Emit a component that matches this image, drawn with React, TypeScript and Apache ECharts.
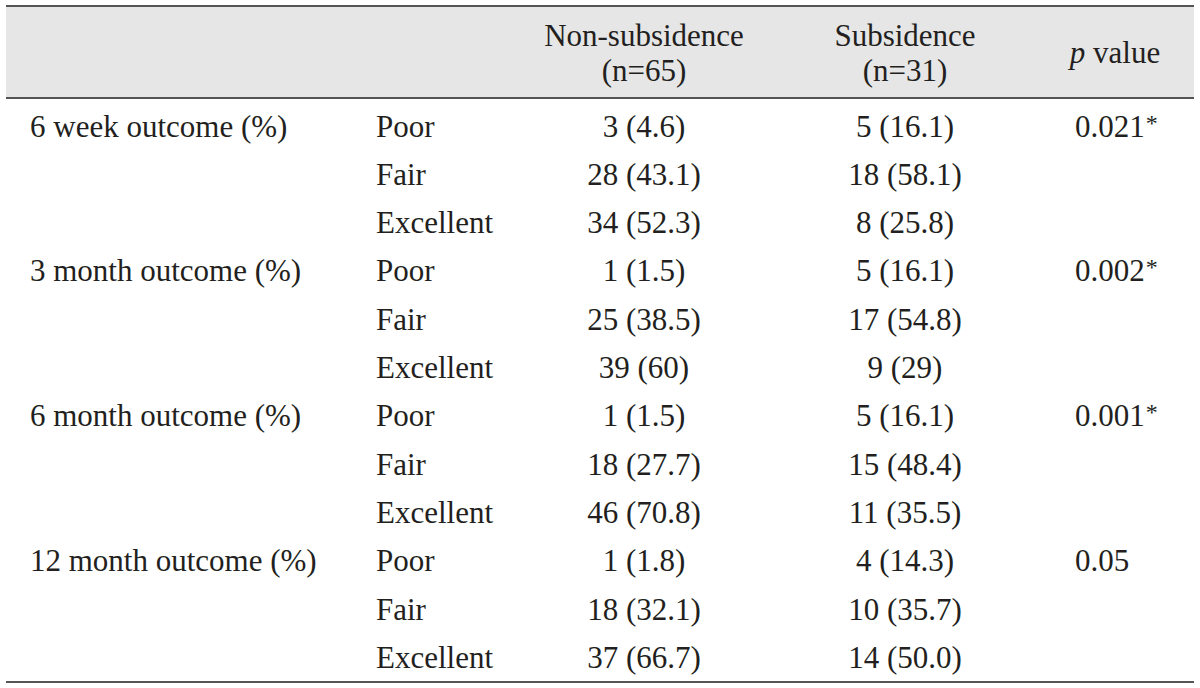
import React, { useEffect, useRef } from "react";
import * as echarts from "echarts";

const timepoints = ["6 week outcome (%)", "3 month outcome (%)", "6 month outcome (%)", "12 month outcome (%)"];
const grades = ["Poor", "Fair", "Excellent"];
const nonSubCounts = [3, 28, 34, 1, 25, 39, 1, 18, 46, 1, 18, 37];
const nonSubPcts = ["4.6", "43.1", "52.3", "1.5", "38.5", "60", "1.5", "27.7", "70.8", "1.8", "32.1", "66.7"];
const subCounts = [5, 18, 8, 5, 17, 9, 5, 15, 11, 4, 10, 14];
const subPcts = ["16.1", "58.1", "25.8", "16.1", "54.8", "29", "16.1", "48.4", "35.5", "14.3", "35.7", "50.0"];
const pValues = ["0.021", "0.002", "0.001", "0.05"];
const pSignificant = [true, true, true, false];
const headerGroups = ["Non-subsidence", "Subsidence"];
const headerNs = ["(n=65)", "(n=31)"];

export default function App() {
  const ref = useRef<HTMLDivElement>(null);
  useEffect(() => {
    document.body.style.margin = "0";
    const chart = echarts.init(ref.current!, null, { renderer: "svg" });
    const font = "'Liberation Serif', 'DejaVu Serif', serif";
    const fs = 31;
    const color = "#231f20";
    const left = 6, right = 1194;
    const topLine = 6, headLine = 98, bottomLine = 682;
    const row0 = 126, rowH = 48.3;
    const col0 = 30, col1 = 376, col2 = 644, col3 = 905, col4 = 1075, col4h = 1115;

    const txt = (text: string, x: number, y: number, align: string, extra: any = {}) => ({
      type: "text",
      x, y,
      style: {
        text, fill: color, fontSize: fs, fontFamily: font,
        textAlign: align, textVerticalAlign: "middle",
        align, verticalAlign: "middle", ...extra,
      },
    });

    const els: any[] = [];
    els.push({ type: "rect", shape: { x: left, y: topLine, width: right - left, height: headLine - topLine }, style: { fill: "#e6e6e6" } });
    const hline = (y: number) => ({ type: "line", shape: { x1: left, y1: y, x2: right, y2: y }, style: { stroke: "#555", lineWidth: 2 } });
    els.push(hline(topLine), hline(headLine), hline(bottomLine));

    const hx = [col2, col3];
    headerGroups.forEach((h, i) => {
      els.push(txt(h, hx[i], 35, "center"));
      els.push(txt(headerNs[i], hx[i], 70, "center"));
    });
    els.push(txt("{i|p} value", col4h, 52, "center", {
      rich: { i: { fontStyle: "italic", fontSize: fs, fontFamily: font, fill: color } },
    }));

    timepoints.forEach((tp, t) => {
      const base = t * grades.length;
      const y0 = row0 + base * rowH;
      els.push(txt(tp, col0, y0, "left"));
      els.push(txt(pSignificant[t] ? `${pValues[t]}{s|*}` : pValues[t], col4, y0, "left", {
        rich: { s: { fontSize: 24, fontFamily: font, fill: color, verticalAlign: "top", padding: [0, 0, 6, 1] } },
      }));
      grades.forEach((g, k) => {
        const r = base + k;
        const y = row0 + r * rowH;
        els.push(txt(g, col1, y, "left"));
        els.push(txt(`${nonSubCounts[r]} (${nonSubPcts[r]})`, col2, y, "center"));
        els.push(txt(`${subCounts[r]} (${subPcts[r]})`, col3, y, "center"));
      });
    });

    chart.setOption({
      animation: false,
      backgroundColor: "#ffffff",
      graphic: { elements: els },
    });
    return () => chart.dispose();
  }, []);
  return <div ref={ref} style={{ width: 1200, height: 688 }} />;
}
